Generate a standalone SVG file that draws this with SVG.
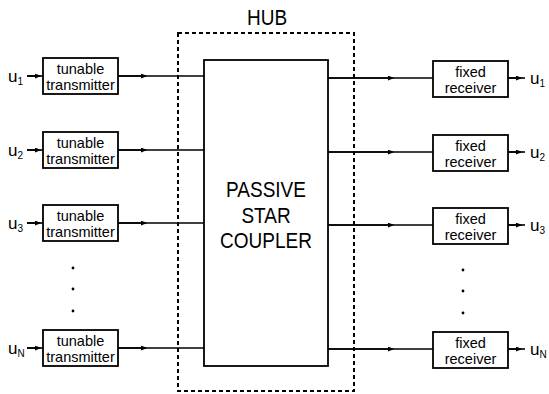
<svg xmlns="http://www.w3.org/2000/svg" width="549" height="394" viewBox="0 0 549 394">
<style>
text{font-family:"Liberation Sans",Arial,Helvetica,sans-serif;fill:#000}
.box{fill:#fff;stroke:#000;stroke-width:1.8}
.lbl{font-size:14.5px;text-anchor:middle}
.big{font-size:19px;text-anchor:middle}
.u{font-size:17px}
.sub{font-size:10px}
.ln{stroke:#000;stroke-width:1.6;fill:none}
.dot{fill:#000}
</style>
<defs>
<marker id="ah" viewBox="0 0 8 6" refX="4" refY="3" markerWidth="7" markerHeight="5" markerUnits="userSpaceOnUse" orient="auto">
<path d="M0,0 L8,3 L0,6 z" fill="#000"/>
</marker>
</defs>

<g id="hub">
<rect x="178" y="33" width="176" height="358" fill="none" stroke="#000" stroke-width="2" stroke-dasharray="4,3"/>
<text class="big" transform="translate(267,25) scale(1,1.15)">HUB</text>
</g>

<g id="connectors">
<path class="ln" d="M27,76 H43" />
<path class="ln" d="M27,76 H38" marker-end="url(#ah)"/>
<path class="ln" d="M27,150 H43" />
<path class="ln" d="M27,150 H38" marker-end="url(#ah)"/>
<path class="ln" d="M27,223 H43" />
<path class="ln" d="M27,223 H38" marker-end="url(#ah)"/>
<path class="ln" d="M27,348 H43" />
<path class="ln" d="M27,348 H38" marker-end="url(#ah)"/>
<path class="ln" d="M118,76 H204" />
<path class="ln" d="M118,76 H144" marker-end="url(#ah)"/>
<path class="ln" d="M118,150 H204" />
<path class="ln" d="M118,150 H144" marker-end="url(#ah)"/>
<path class="ln" d="M118,223 H204" />
<path class="ln" d="M118,223 H144" marker-end="url(#ah)"/>
<path class="ln" d="M118,348 H204" />
<path class="ln" d="M118,348 H144" marker-end="url(#ah)"/>
<path class="ln" d="M328,78 H433" />
<path class="ln" d="M328,78 H391" marker-end="url(#ah)"/>
<path class="ln" d="M328,152 H433" />
<path class="ln" d="M328,152 H391" marker-end="url(#ah)"/>
<path class="ln" d="M328,225 H433" />
<path class="ln" d="M328,225 H391" marker-end="url(#ah)"/>
<path class="ln" d="M328,349 H433" />
<path class="ln" d="M328,349 H391" marker-end="url(#ah)"/>
<path class="ln" d="M508,78 H525" />
<path class="ln" d="M508,78 H519" marker-end="url(#ah)"/>
<path class="ln" d="M508,152 H525" />
<path class="ln" d="M508,152 H519" marker-end="url(#ah)"/>
<path class="ln" d="M508,225 H525" />
<path class="ln" d="M508,225 H519" marker-end="url(#ah)"/>
<path class="ln" d="M508,349 H525" />
<path class="ln" d="M508,349 H519" marker-end="url(#ah)"/>
</g>

<g id="coupler">
<rect class="box" x="204" y="60" width="124" height="306" stroke-width="2"/>
<text class="big" transform="translate(266,197) scale(1,1.15)">PASSIVE</text>
<text class="big" transform="translate(266,222.5) scale(1,1.15)">STAR</text>
<text class="big" transform="translate(266,248) scale(1,1.15)">COUPLER</text>
</g>

<g id="tx1"><rect class="box" x="43" y="58" width="75" height="36"/>
<text class="lbl" x="80.5" y="74">tunable</text><text class="lbl" x="80.5" y="90">transmitter</text></g>
<g id="tx2"><rect class="box" x="43" y="132" width="75" height="36"/>
<text class="lbl" x="80.5" y="148">tunable</text><text class="lbl" x="80.5" y="164">transmitter</text></g>
<g id="tx3"><rect class="box" x="43" y="205" width="75" height="36"/>
<text class="lbl" x="80.5" y="221">tunable</text><text class="lbl" x="80.5" y="237">transmitter</text></g>
<g id="txN"><rect class="box" x="43" y="330" width="75" height="36"/>
<text class="lbl" x="80.5" y="346">tunable</text><text class="lbl" x="80.5" y="362">transmitter</text></g>

<g id="rx1"><rect class="box" x="433" y="61" width="75" height="36"/>
<text class="lbl" x="470.5" y="77">fixed</text><text class="lbl" x="470.5" y="93">receiver</text></g>
<g id="rx2"><rect class="box" x="433" y="135" width="75" height="36"/>
<text class="lbl" x="470.5" y="151">fixed</text><text class="lbl" x="470.5" y="167">receiver</text></g>
<g id="rx3"><rect class="box" x="433" y="208" width="75" height="36"/>
<text class="lbl" x="470.5" y="224">fixed</text><text class="lbl" x="470.5" y="240">receiver</text></g>
<g id="rxN"><rect class="box" x="433" y="332" width="75" height="36"/>
<text class="lbl" x="470.5" y="348">fixed</text><text class="lbl" x="470.5" y="364">receiver</text></g>

<g id="users-in">
<text class="u" x="8" y="82">u<tspan class="sub" dy="3">1</tspan></text>
<text class="u" x="8" y="156">u<tspan class="sub" dy="3">2</tspan></text>
<text class="u" x="8" y="229">u<tspan class="sub" dy="3">3</tspan></text>
<text class="u" x="8" y="354">u<tspan class="sub" dy="3">N</tspan></text>
</g>
<g id="users-out">
<text class="u" x="530" y="84">u<tspan class="sub" dy="3">1</tspan></text>
<text class="u" x="530" y="158">u<tspan class="sub" dy="3">2</tspan></text>
<text class="u" x="530" y="231">u<tspan class="sub" dy="3">3</tspan></text>
<text class="u" x="530" y="355">u<tspan class="sub" dy="3">N</tspan></text>
</g>

<g id="ellipses">
<circle class="dot" cx="73" cy="268" r="1.4"/>
<circle class="dot" cx="73" cy="289" r="1.4"/>
<circle class="dot" cx="73" cy="311" r="1.4"/>
<circle class="dot" cx="463" cy="270" r="1.4"/>
<circle class="dot" cx="463" cy="291" r="1.4"/>
<circle class="dot" cx="463" cy="313" r="1.4"/>
</g>
</svg>
